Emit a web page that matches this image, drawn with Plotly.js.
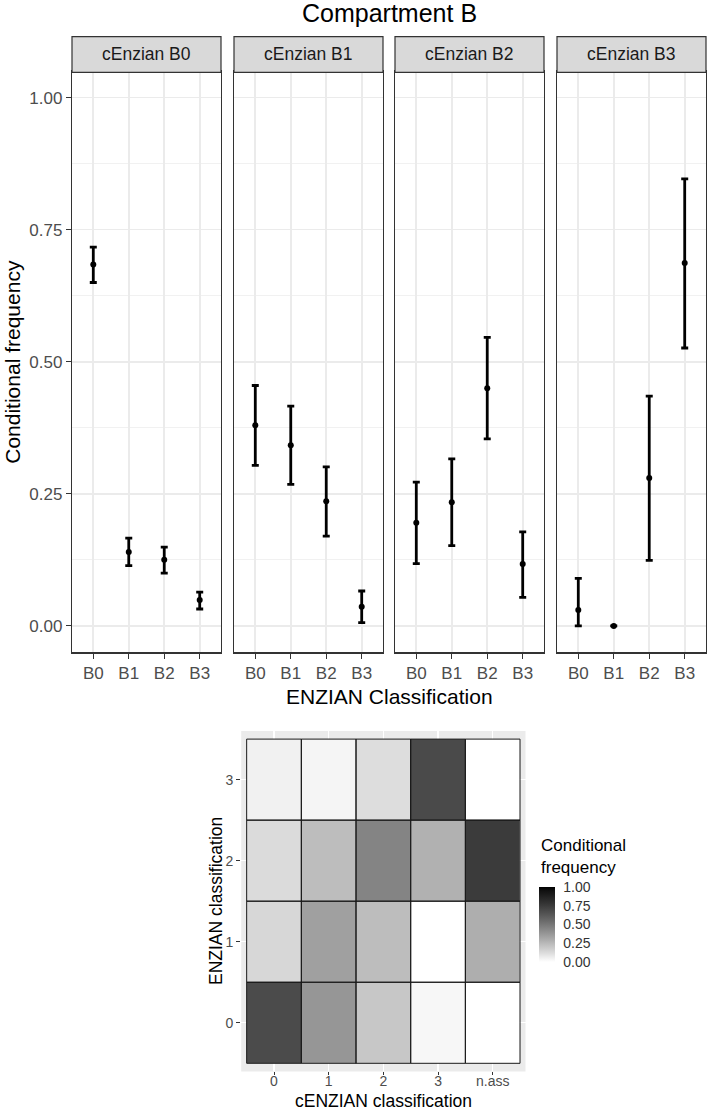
<!DOCTYPE html>
<html>
<head>
<meta charset="utf-8">
<script src="https://cdn.plot.ly/plotly-3.0.1.min.js"></script>
<style>html,body{margin:0;padding:0;background:#fff;}#chart{width:709px;height:1112px;}</style>
</head>
<body>
<div id="chart"></div>
<script>
// ---------- DATA ----------
const panelLabels = ["cEnzian B0", "cEnzian B1", "cEnzian B2", "cEnzian B3"];
const enzianCats = ["B0", "B1", "B2", "B3"];

const estB0 = [0.684, 0.140, 0.125, 0.049];
const estB1 = [0.380, 0.342, 0.236, 0.036];
const estB2 = [0.195, 0.234, 0.450, 0.117];
const estB3 = [0.030, 0.000, 0.280, 0.687];

const lowB0 = [0.650, 0.114, 0.100, 0.032];
const lowB1 = [0.304, 0.268, 0.170, 0.006];
const lowB2 = [0.118, 0.152, 0.354, 0.054];
const lowB3 = [0.000, 0.000, 0.124, 0.526];

const upB0 = [0.717, 0.166, 0.149, 0.064];
const upB1 = [0.455, 0.416, 0.301, 0.066];
const upB2 = [0.272, 0.316, 0.546, 0.178];
const upB3 = [0.090, 0.000, 0.435, 0.846];

const yTickVals = [0, 0.25, 0.5, 0.75, 1];
const yTickText = ["0.00", "0.25", "0.50", "0.75", "1.00"];

// heatmap: columns = cENZIAN classification, rows = ENZIAN classification
const heatX = ["0", "1", "2", "3", "n.ass"];
const heatY = ["0", "1", "2", "3"];
const heatRow0 = [0.684, 0.380, 0.195, 0.030, 0.00];
const heatRow1 = [0.140, 0.342, 0.234, 0.000, 0.29];
const heatRow2 = [0.125, 0.236, 0.450, 0.280, 0.75];
const heatRow3 = [0.049, 0.036, 0.117, 0.687, 0.00];
const legendTickVals = [0, 0.25, 0.5, 0.75, 1];
const legendTickText = ["0.00", "0.25", "0.50", "0.75", "1.00"];

// ---------- LAYOUT HELPERS ----------
const W = 709, H = 1112;
const FONT = "Liberation Sans, Arial, sans-serif";
const px = v => v / W;
const py = v => 1 - v / H;

const panelX = [[72, 221], [234, 383], [395, 544], [557, 706]];
const panelTop = 71.2, panelBottom = 652.3;
const stripTop = 36.7, stripBottom = 72.3;

const ests = [estB0, estB1, estB2, estB3];
const lows = [lowB0, lowB1, lowB2, lowB3];
const ups = [upB0, upB1, upB2, upB3];

// white->black colour scale, linear in CIE L*
function grayForL(L) {
  let Y = L > 8 ? Math.pow((L + 16) / 116, 3) : L / 903.3;
  let s = Y <= 0.0031308 ? 12.92 * Y : 1.055 * Math.pow(Y, 1 / 2.4) - 0.055;
  let g = Math.round(Math.max(0, Math.min(1, s)) * 255);
  return "rgb(" + g + "," + g + "," + g + ")";
}
const cscale = [];
for (let i = 0; i <= 20; i++) {
  const t = i / 20;
  cscale.push([t, grayForL(100 * (1 - t))]);
}

const traces = [];
const layout = {
  width: W, height: H, autosize: false,
  margin: {l: 0, r: 0, t: 0, b: 0, pad: 0},
  paper_bgcolor: "#ffffff",
  plot_bgcolor: "#ffffff",
  showlegend: false,
  font: {family: FONT, color: "#1a1a1a"},
  shapes: [],
  annotations: []
};

for (let p = 0; p < 4; p++) {
  const sfx = p === 0 ? "" : String(p + 1);
  const est = ests[p], lo = lows[p], up = ups[p];
  traces.push({
    type: "scatter", mode: "markers",
    x: enzianCats, y: est,
    xaxis: "x" + sfx, yaxis: "y" + sfx,
    marker: {color: "#000", size: 6},
    error_y: {
      type: "data", symmetric: false,
      array: up.map((u, i) => u - est[i]),
      arrayminus: est.map((e, i) => e - lo[i]),
      color: "#000", thickness: 2.8, width: 3.5
    },
    cliponaxis: false,
    hoverinfo: "skip"
  });
  layout["xaxis" + sfx] = {
    domain: [px(panelX[p][0]), px(panelX[p][1])],
    anchor: "y" + sfx,
    type: "category",
    categoryorder: "array", categoryarray: enzianCats,
    range: [-0.6, 3.6],
    showgrid: true, gridcolor: "#ebebeb", gridwidth: 1.6,
    zeroline: false,
    showline: true, mirror: true, linecolor: "#333333", linewidth: 1.2,
    ticks: "outside", ticklen: 5, tickwidth: 1.2, tickcolor: "#333333",
    tickfont: {family: FONT, size: 17, color: "#4d4d4d"},
    fixedrange: true
  };
  layout["yaxis" + sfx] = {
    domain: [py(panelBottom), py(panelTop)],
    anchor: "x" + sfx,
    range: [-0.05, 1.05],
    tickvals: yTickVals, ticktext: yTickText,
    showticklabels: p === 0,
    showgrid: true, gridcolor: "#ebebeb", gridwidth: 1.6,
    minor: {tick0: 0.125, dtick: 0.25, showgrid: true, gridcolor: "#efefef", gridwidth: 0.9, ticks: ""},
    zeroline: false,
    showline: true, mirror: true, linecolor: "#333333", linewidth: 1.2,
    ticks: p === 0 ? "outside" : "", ticklen: 5, tickwidth: 1.2, tickcolor: "#333333",
    tickfont: {family: FONT, size: 17, color: "#4d4d4d"},
    fixedrange: true
  };
  // strip
  layout.shapes.push({
    type: "rect", xref: "paper", yref: "paper",
    x0: px(panelX[p][0]), x1: px(panelX[p][1]),
    y0: py(stripBottom), y1: py(stripTop),
    fillcolor: "#d9d9d9", line: {color: "#333333", width: 1.2}
  });
  layout.annotations.push({
    xref: "paper", yref: "paper",
    x: px((panelX[p][0] + panelX[p][1]) / 2), y: py((stripTop + stripBottom) / 2),
    xanchor: "center", yanchor: "middle",
    text: panelLabels[p], showarrow: false,
    font: {family: FONT, size: 17.5, color: "#1a1a1a"}
  });
}

// titles of top figure
layout.annotations.push({
  xref: "paper", yref: "paper", x: px(389), y: py(13),
  xanchor: "center", yanchor: "middle", showarrow: false,
  text: "Compartment B", font: {family: FONT, size: 25, color: "#000"}
});
layout.annotations.push({
  xref: "paper", yref: "paper", x: px(389), y: py(696),
  xanchor: "center", yanchor: "middle", showarrow: false,
  text: "ENZIAN Classification", font: {family: FONT, size: 21, color: "#000"}
});
layout.annotations.push({
  xref: "paper", yref: "paper", x: px(13), y: py((panelTop + panelBottom) / 2),
  xanchor: "center", yanchor: "middle", showarrow: false, textangle: -90,
  text: "Conditional frequency", font: {family: FONT, size: 21, color: "#000"}
});

// ---------- HEATMAP ----------
const heatZ = [heatRow0, heatRow1, heatRow2, heatRow3];
const hx0 = 241.2, hx1 = 525.5, hy0 = 731, hy1 = 1071.4;
traces.push({
  type: "heatmap",
  x: heatX, y: heatY, z: heatZ,
  xaxis: "x5", yaxis: "y5",
  zmin: 0, zmax: 1,
  colorscale: cscale,
  hoverinfo: "skip",
  colorbar: {
    x: px(539), xanchor: "left", xref: "paper",
    y: py(924.5), yanchor: "middle", yref: "paper",
    len: 75, lenmode: "pixels", thickness: 16, thicknessmode: "pixels",
    xpad: 0, ypad: 0, outlinewidth: 0,
    tickvals: legendTickVals, ticktext: legendTickText,
    ticks: "outside", ticklen: 6, tickcolor: "#ffffff", tickwidth: 1,
    tickfont: {family: FONT, size: 14, color: "#333333"},
    title: {text: ""}
  }
});
// colour bar title
layout.annotations.push({
  xref: "paper", yref: "paper", x: px(539), y: py(879),
  xanchor: "left", yanchor: "bottom", align: "left", showarrow: false,
  text: "Conditional<br>frequency", font: {family: FONT, size: 17, color: "#000"}
});
layout.xaxis5 = {
  domain: [px(hx0), px(hx1)], anchor: "y5",
  type: "category", categoryorder: "array", categoryarray: heatX,
  range: [-0.6, 4.6],
  showgrid: true, gridcolor: "#ffffff", gridwidth: 1.2, zeroline: false, showline: false,
  ticks: "outside", ticklen: 3, tickwidth: 1, tickcolor: "#333333",
  ticklabelstandoff: -6,
  tickfont: {family: FONT, size: 14, color: "#4d4d4d"},
  fixedrange: true
};
layout.yaxis5 = {
  domain: [py(hy1), py(hy0)], anchor: "x5",
  type: "category", categoryorder: "array", categoryarray: heatY,
  range: [-0.6, 3.6],
  showgrid: true, gridcolor: "#ffffff", gridwidth: 1.2, zeroline: false, showline: false,
  ticks: "outside", ticklen: 4, tickwidth: 1, tickcolor: "#333333",
  tickfont: {family: FONT, size: 14, color: "#4d4d4d"},
  fixedrange: true
};
// gray panel background for heatmap subplot
layout.shapes.push({
  type: "rect", xref: "x5 domain", yref: "y5 domain",
  x0: 0, x1: 1, y0: 0, y1: 1, layer: "below",
  fillcolor: "#ebebeb", line: {width: 0}
});
// tile borders derived from the category grid
for (let r = 0; r < heatY.length; r++) {
  for (let c = 0; c < heatX.length; c++) {
    layout.shapes.push({
      type: "rect", xref: "x5", yref: "y5",
      x0: c - 0.5, x1: c + 0.5, y0: r - 0.5, y1: r + 0.5,
      fillcolor: "rgba(0,0,0,0)", line: {color: "#1a1a1a", width: 1}
    });
  }
}
layout.annotations.push({
  xref: "paper", yref: "paper", x: px(383), y: py(1101),
  xanchor: "center", yanchor: "middle", showarrow: false,
  text: "cENZIAN classification", font: {family: FONT, size: 17.5, color: "#000"}
});
layout.annotations.push({
  xref: "paper", yref: "paper", x: px(216), y: py(901),
  xanchor: "center", yanchor: "middle", showarrow: false, textangle: -90,
  text: "ENZIAN classification", font: {family: FONT, size: 17.5, color: "#000"}
});

Plotly.newPlot("chart", traces, layout, {staticPlot: true, displayModeBar: false});
</script>
</body>
</html>
